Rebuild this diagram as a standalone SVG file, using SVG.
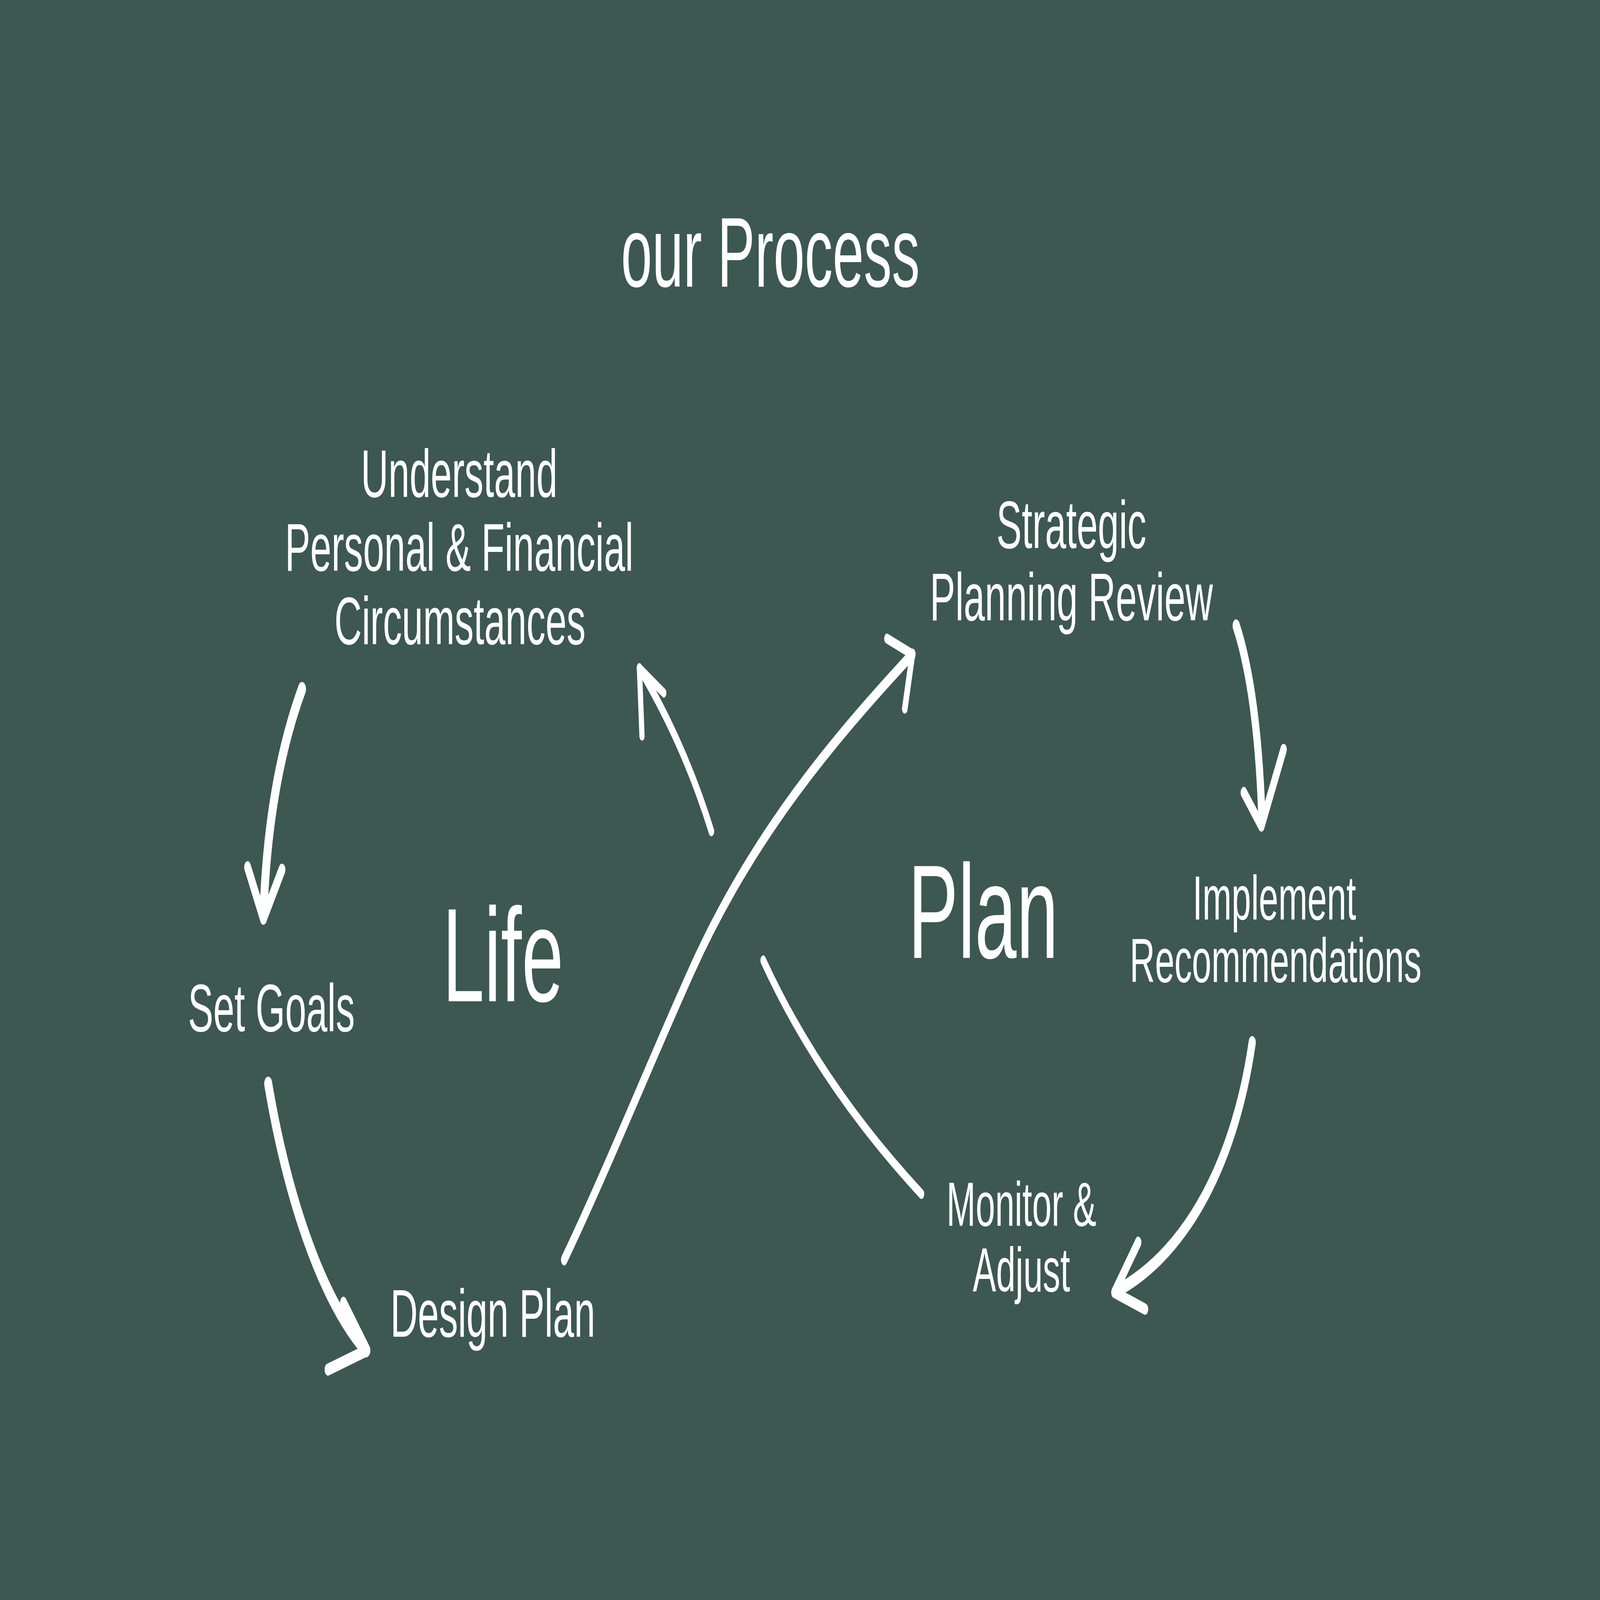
<svg xmlns="http://www.w3.org/2000/svg" width="8000" height="4500" viewBox="0 0 8000 4500" preserveAspectRatio="none" style="width:100vw;height:100vh">
<style>
  text { font-family: "Liberation Sans", Arial, sans-serif; fill: #ffffff; text-anchor: middle; }
  .title { font-size: 280px; }
  .lbl { font-size: 190px; }
  .lbl2 { font-size: 175px; }
  .big { font-size: 375px; }
  .c { fill: none; stroke: #ffffff; stroke-linecap: round; stroke-linejoin: round; }
</style>
<rect x="0" y="0" width="8000" height="4500" fill="#3d5850"/>

<g id="title"><text class="title" x="3852" y="806">our Process</text></g>

<g id="node-understand">
  <text class="lbl" x="2296" y="1398">Understand</text>
  <text class="lbl" x="2296" y="1605">Personal &amp; Financial</text>
  <text class="lbl" x="2300" y="1812">Circumstances</text>
</g>
<g id="node-strategic">
  <text class="lbl" x="5357" y="1541">Strategic</text>
  <text class="lbl" x="5357" y="1745">Planning Review</text>
</g>
<g id="node-setgoals"><text class="lbl" x="1357" y="2900">Set Goals</text></g>
<g id="label-life"><text class="big" x="2515" y="2816">Life</text></g>
<g id="label-plan"><text class="big" x="4916" y="2694">Plan</text></g>
<g id="node-implement">
  <text class="lbl2" x="6372" y="2586">Implement</text>
  <text class="lbl2" x="6378" y="2762">Recommendations</text>
</g>
<g id="node-design"><text class="lbl" x="2464" y="3760">Design Plan</text></g>
<g id="node-monitor">
  <text class="lbl2" x="5107" y="3448">Monitor &amp;</text>
  <text class="lbl2" x="5107" y="3632">Adjust</text>
</g>

<g id="connectors">
  <path class="c" stroke-width="40" d="M1510,1938 Q1340,2200 1317,2575"/>
  <path class="c" stroke-width="34" d="M1238,2439 L1317,2584 L1410,2446"/>

  <path class="c" stroke-width="40" d="M1341,3048 C1430,3350 1600,3650 1830,3798"/>
  <path class="c" stroke-width="34" d="M1717,3664 L1835,3798 L1640,3852"/>

  <path class="c" stroke-width="28" d="M3557,2338 Q3420,2090 3197,1879"/>
  <path class="c" stroke-width="26" d="M3210,2070 L3197,1879 L3319,1949"/>

  <path class="c" stroke-width="32" d="M2821,3543 C3050,3270 3250,2990 3450,2740 C3750,2360 4150,2090 4562,1840"/>
  <path class="c" stroke-width="28" d="M4435,1796 L4562,1840 L4524,1993"/>

  <path class="c" stroke-width="28" d="M3816,2701 Q4100,3050 4607,3358"/>

  <path class="c" stroke-width="36" d="M6181,1760 Q6290,1950 6310,2310"/>
  <path class="c" stroke-width="32" d="M6219,2229 L6307,2323 L6418,2108"/>

  <path class="c" stroke-width="36" d="M6261,2932 C6180,3250 5950,3520 5580,3632"/>
  <path class="c" stroke-width="32" d="M5691,3494 L5572,3635 L5725,3682"/>
</g>
</svg>
